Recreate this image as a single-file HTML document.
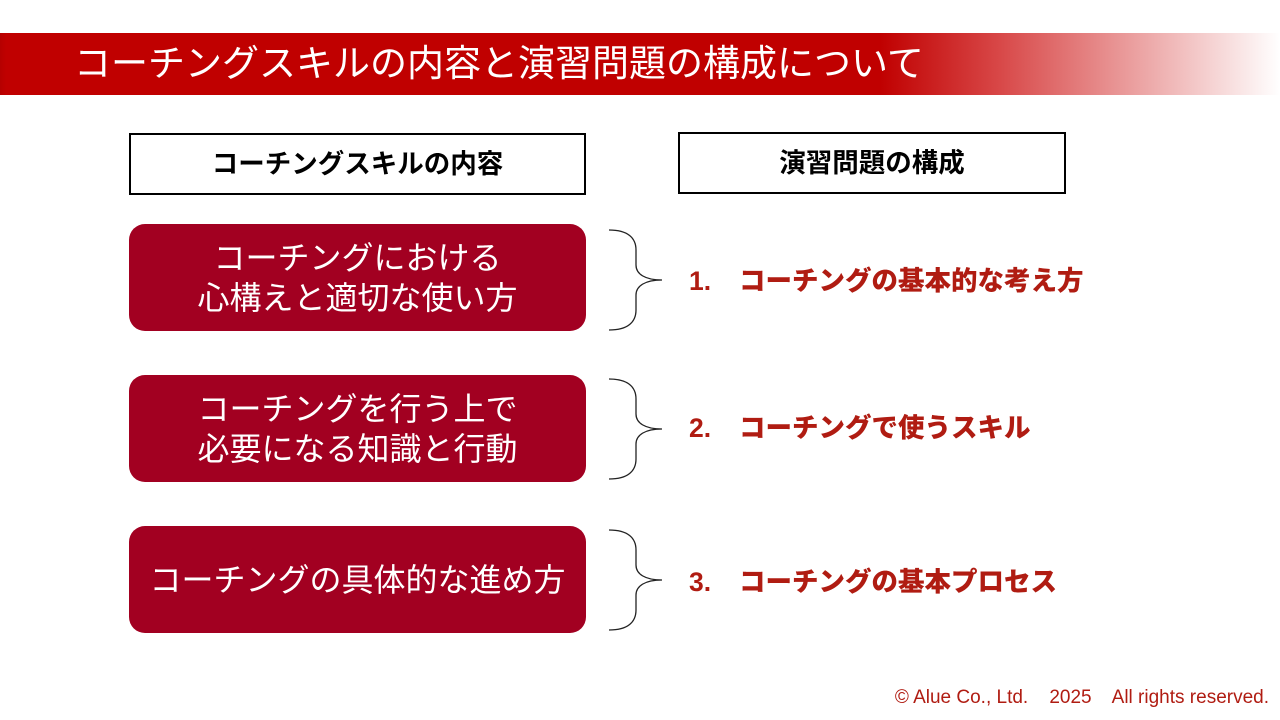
<!DOCTYPE html>
<html><head><meta charset="utf-8"><style>
body{margin:0;width:1280px;height:720px;background:#fff;position:relative;overflow:hidden;font-family:"Liberation Sans","Noto Sans CJK JP",sans-serif}
.banner{position:absolute;left:0;top:33px;width:1280px;height:62px;background:linear-gradient(to right,#b50000 0px,#c00000 6px,#c00000 880px,#d84848 1000px,#fff 1280px)}
.banner span{position:absolute;left:74px;top:7px;color:#fff;font-size:37px;line-height:48px;white-space:nowrap}
.hd{position:absolute;border:2px solid #000;box-sizing:border-box;text-align:center;font-weight:bold;font-size:26.5px;line-height:58px;height:62px}
.box{position:absolute;left:129px;width:457px;height:107px;background:#a20021;border-radius:16px;color:#fff;font-size:32px;line-height:40px;display:flex;align-items:center;justify-content:center;text-align:center;white-space:nowrap}
.it{position:absolute;left:689px;color:#b01c12;font-weight:bold;font-size:26.5px;line-height:30px;white-space:nowrap}
.it b{position:absolute;left:50px}
.foot{position:absolute;right:11px;top:687px;color:#b01c12;font-size:19px;white-space:nowrap}
</style></head><body>
<div class="banner"><span>コーチングスキルの内容と演習問題の構成について</span></div>
<div class="hd" style="left:129px;top:133px;width:457px">コーチングスキルの内容</div>
<div class="hd" style="left:678px;top:132px;width:388px">演習問題の構成</div>
<div class="box" style="top:224px">コーチングにおける<br>心構えと適切な使い方</div>
<div class="box" style="top:375px">コーチングを行う上で<br>必要になる知識と行動</div>
<div class="box" style="top:526px">コーチングの具体的な進め方</div>
<svg width="1280" height="720" style="position:absolute;left:0;top:0" fill="none" stroke="#222" stroke-width="1.3">
<path d="M609,230 C628,230 636,238 636,250 L636,265 C636,274 645,280 662,280 C645,280 636,286 636,295 L636,310 C636,322 628,330 609,330"/>
<path d="M609,379 C628,379 636,387 636,399 L636,414 C636,423 645,429 662,429 C645,429 636,435 636,444 L636,459 C636,471 628,479 609,479"/>
<path d="M609,530 C628,530 636,538 636,550 L636,565 C636,574 645,580 662,580 C645,580 636,586 636,595 L636,610 C636,622 628,630 609,630"/>
</svg>
<div class="it" style="top:266px">1.<b>コーチングの基本的な考え方</b></div>
<div class="it" style="top:413px">2.<b>コーチングで使うスキル</b></div>
<div class="it" style="top:567px">3.<b>コーチングの基本プロセス</b></div>
<div class="foot">© Alue Co., Ltd.&nbsp;&nbsp;&nbsp; 2025&nbsp;&nbsp;&nbsp; All rights reserved.</div>
</body></html>
